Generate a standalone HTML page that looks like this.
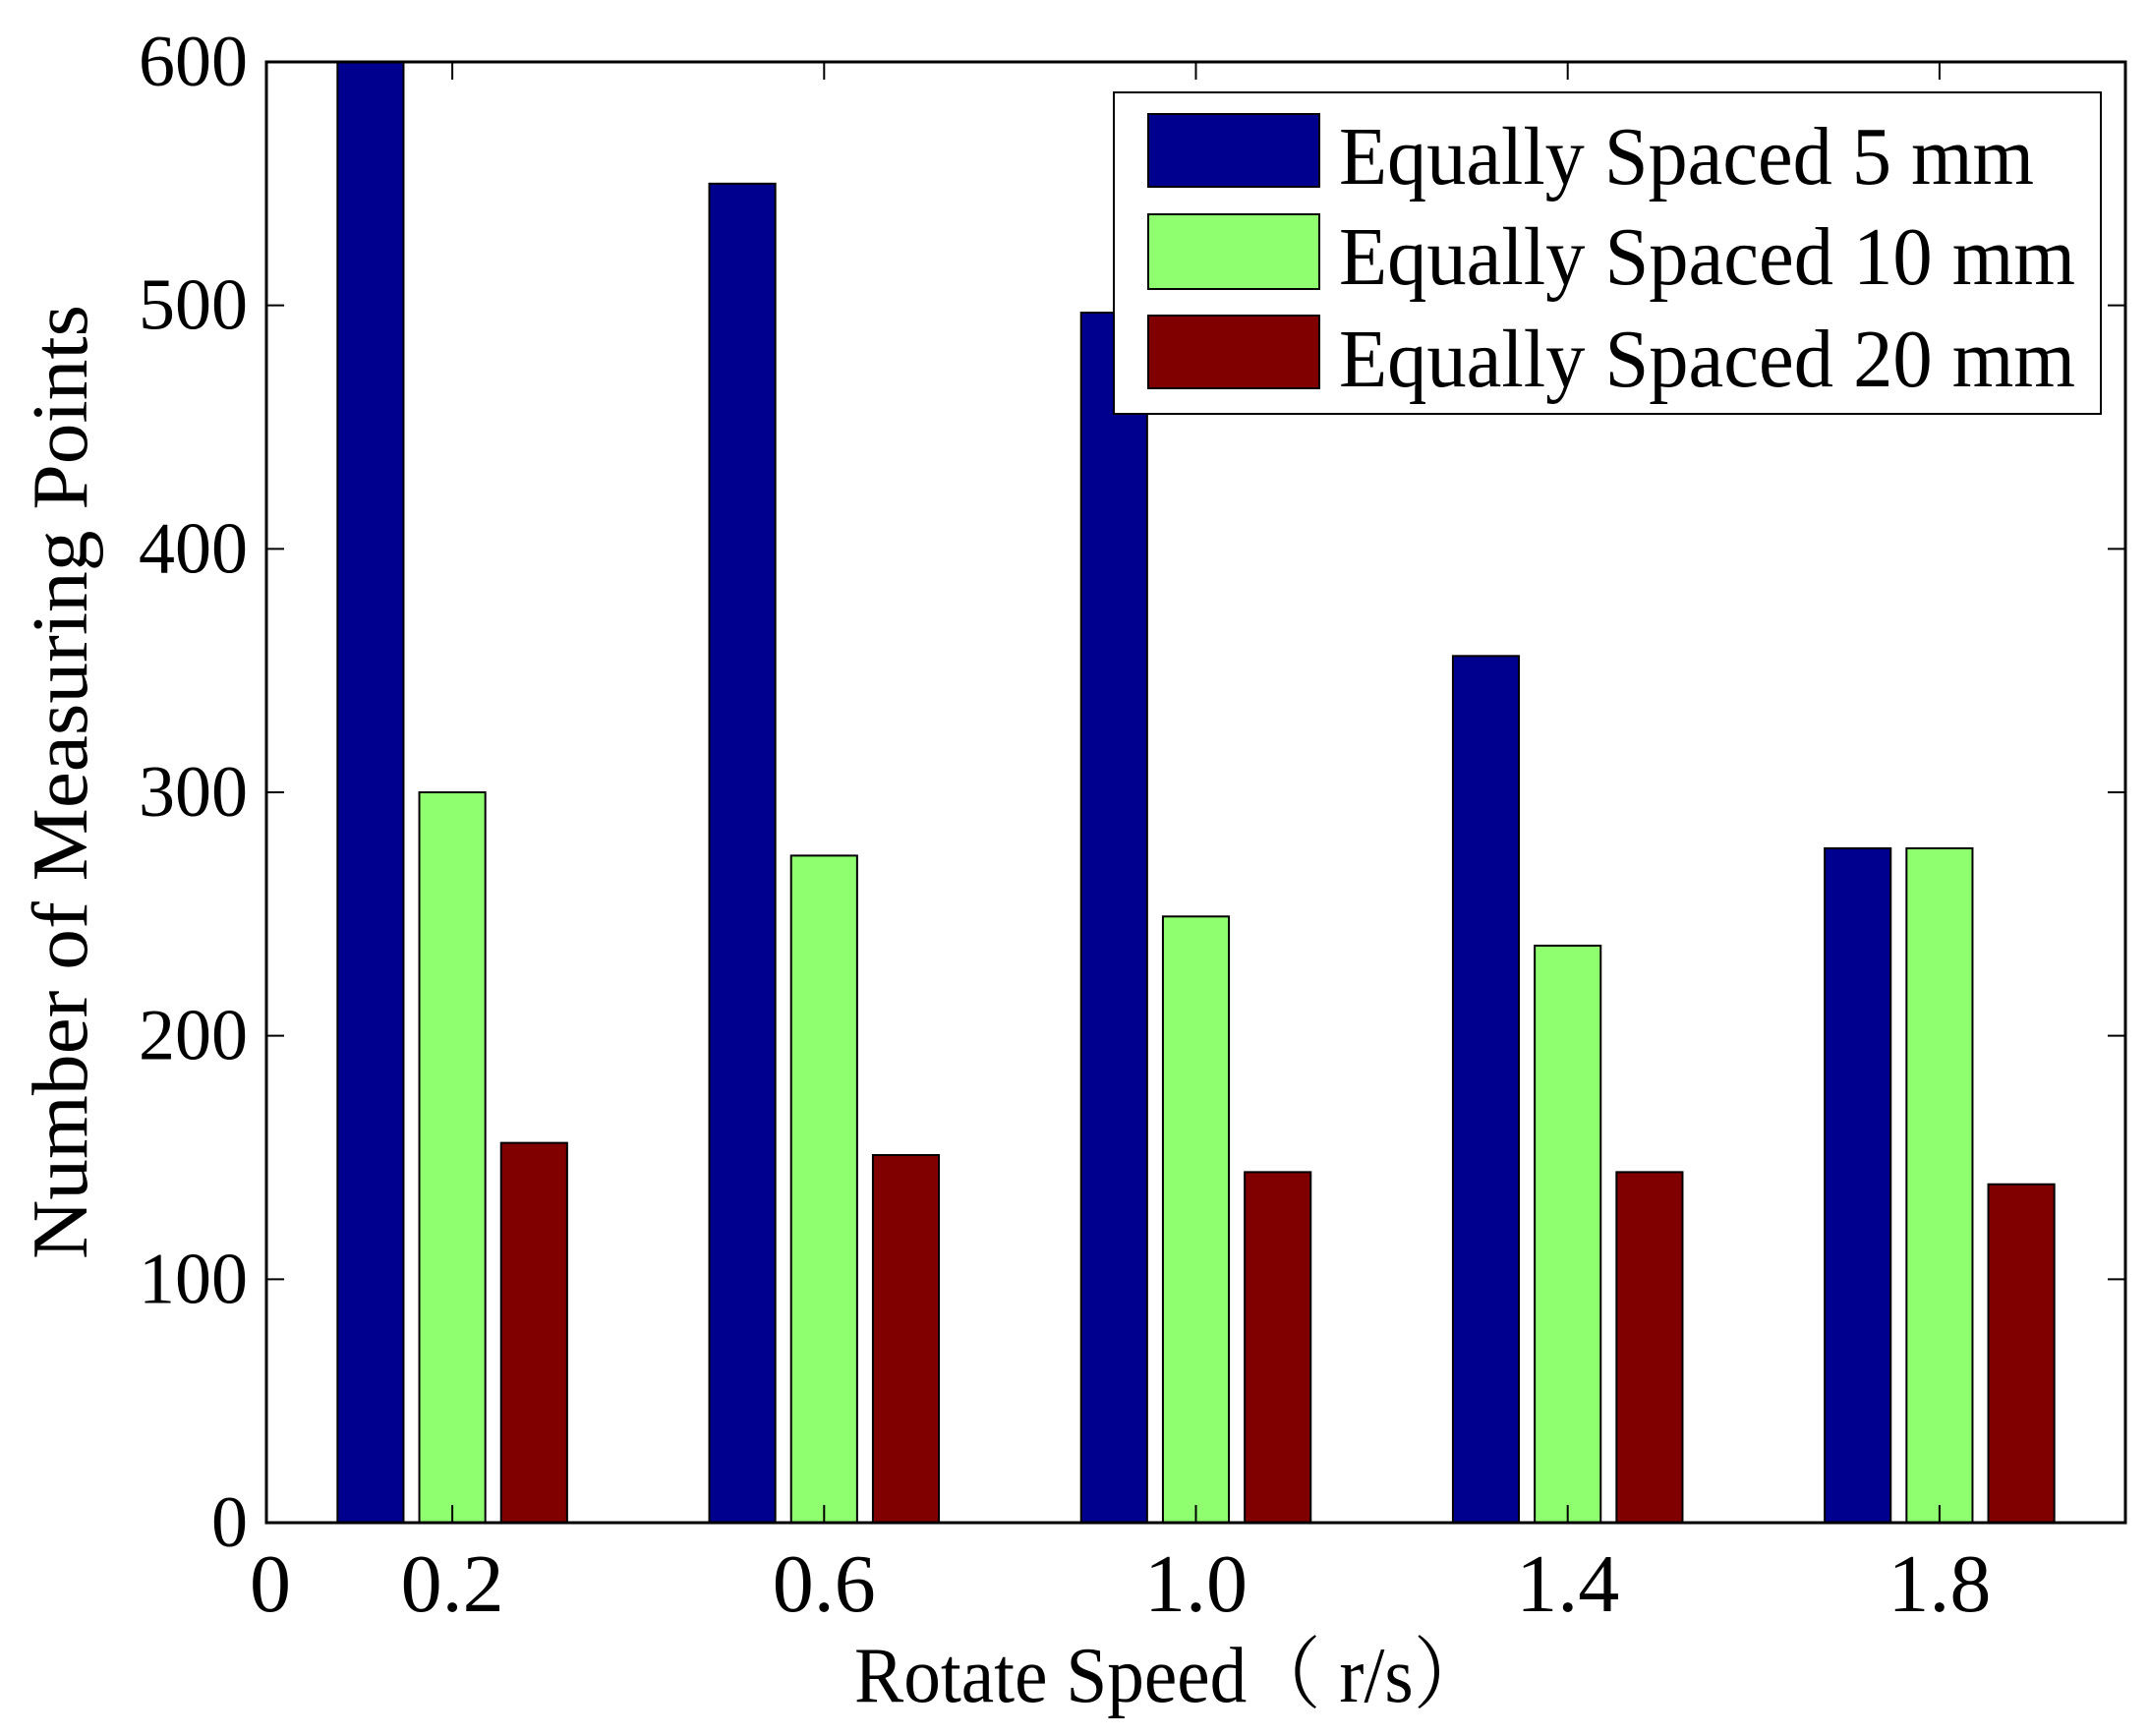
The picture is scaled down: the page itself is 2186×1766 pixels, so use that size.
<!DOCTYPE html>
<html><head><meta charset="utf-8"><style>
html,body{margin:0;padding:0;background:#fff}
svg{display:block}
text{font-family:"Liberation Serif","Noto Serif CJK SC",serif;fill:#000}
</style></head><body>
<svg id="chart" width="2186" height="1766" viewBox="0 0 2186 1766" xmlns="http://www.w3.org/2000/svg">
<rect x="0" y="0" width="2186" height="1766" fill="#fff"/>
<g id="bars"></g>
<g id="axes"></g>
<g>
<rect x="1133" y="94" width="1004" height="327" fill="#fff" stroke="#000" stroke-width="2"/>
<rect x="1168" y="116" width="174" height="74" fill="#00008f" stroke="#000" stroke-width="2"/>
<text x="1362" y="187" font-size="84" textLength="707" lengthAdjust="spacingAndGlyphs">Equally Spaced 5 mm</text>
<rect x="1168" y="218" width="174" height="76" fill="#8fff6f" stroke="#000" stroke-width="2"/>
<text x="1362" y="289" font-size="84" textLength="749" lengthAdjust="spacingAndGlyphs">Equally Spaced 10 mm</text>
<rect x="1168" y="321" width="174" height="74" fill="#800000" stroke="#000" stroke-width="2"/>
<text x="1362" y="393" font-size="84" textLength="749" lengthAdjust="spacingAndGlyphs">Equally Spaced 20 mm</text>
</g>
<text x="869" y="1731" font-size="80" textLength="644" lengthAdjust="spacingAndGlyphs">Rotate Speed（ r/s）</text>
<text transform="translate(88,1281) rotate(-90)" font-size="80" textLength="971" lengthAdjust="spacingAndGlyphs">Number of Measuring Points</text>
</svg>
<script>
const categories = [0.2, 0.6, 1.0, 1.4, 1.8];
const xTickLabels = ["0", "0.2", "0.6", "1.0", "1.4", "1.8"];
const xTickValues = [0, 0.2, 0.6, 1.0, 1.4, 1.8];
const series5mm = [600, 550, 497, 356, 277];
const series10mm = [300, 274, 249, 237, 277];
const series20mm = [156, 151, 144, 144, 139];
const yTicks = [0, 100, 200, 300, 400, 500, 600];

const L = 271, R = 2162, T = 63, B = 1549;
const xMin = 0, xMax = 2.0, yMin = 0, yMax = 600;
function xs(v){ return L + (v - xMin) / (xMax - xMin) * (R - L); }
function ys(v){ return B - (v - yMin) / (yMax - yMin) * (B - T); }

const NS = "http://www.w3.org/2000/svg";
const barsG = document.getElementById('bars');
const axesG = document.getElementById('axes');
const seriesList = [
  {vals: series5mm, color: "#00008f", off: -0.088, key: "5mm"},
  {vals: series10mm, color: "#8fff6f", off: 0.0, key: "10mm"},
  {vals: series20mm, color: "#800000", off: 0.088, key: "20mm"}
];
const bw = 0.071;
seriesList.forEach(s => {
  categories.forEach((c, i) => {
    const r = document.createElementNS(NS, 'rect');
    const x0 = xs(c + s.off - bw/2), x1 = xs(c + s.off + bw/2);
    r.setAttribute('x', x0);
    r.setAttribute('width', x1 - x0);
    r.setAttribute('y', ys(s.vals[i]));
    r.setAttribute('height', ys(0) - ys(s.vals[i]));
    r.setAttribute('fill', s.color);
    r.setAttribute('stroke', '#000');
    r.setAttribute('stroke-width', '2');
    
    
    barsG.appendChild(r);
  });
});

const frame = document.createElementNS(NS, 'rect');
frame.setAttribute('x', L); frame.setAttribute('y', T);
frame.setAttribute('width', R - L); frame.setAttribute('height', B - T);
frame.setAttribute('fill', 'none'); frame.setAttribute('stroke', '#000'); frame.setAttribute('stroke-width', '3');


axesG.appendChild(frame);

function line(x1,y1,x2,y2,name){
  const l = document.createElementNS(NS, 'line');
  l.setAttribute('x1', x1); l.setAttribute('y1', y1); l.setAttribute('x2', x2); l.setAttribute('y2', y2);
  l.setAttribute('stroke', '#000'); l.setAttribute('stroke-width', '2');
  
  
  axesG.appendChild(l);
}
yTicks.forEach(v => {
  const y = ys(v);
  line(L, y, L + 18, y, 'y-tick');
  line(R, y, R - 18, y, 'y-tick-right');
  const t = document.createElementNS(NS, 'text');
  t.setAttribute('x', 252); t.setAttribute('y', y + 24);
  t.setAttribute('text-anchor', 'end'); t.setAttribute('font-size', '74');
  t.textContent = String(v);
  
  
  axesG.appendChild(t);
});
xTickValues.forEach((v, i) => {
  const x = xs(v);
  line(x, B, x, B - 18, 'x-tick');
  line(x, T, x, T + 18, 'x-tick-top');
  const t = document.createElementNS(NS, 'text');
  t.setAttribute('x', x + (v === 0 ? 4 : 0)); t.setAttribute('y', 1639);
  t.setAttribute('text-anchor', 'middle'); t.setAttribute('font-size', '84');
  t.textContent = xTickLabels[i];
  
  
  axesG.appendChild(t);
});
</script>
</body></html>
